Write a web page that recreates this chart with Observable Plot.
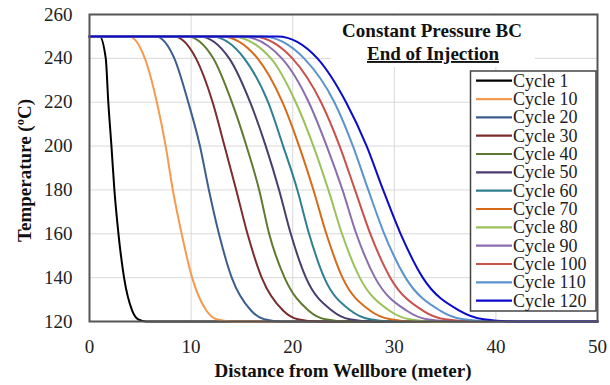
<!DOCTYPE html>
<html><head><meta charset="utf-8">
<script src="https://cdn.jsdelivr.net/npm/d3@7"></script>
<script src="https://cdn.jsdelivr.net/npm/@observablehq/plot@0.6"></script>
<style>
body{margin:0;background:#fff;}
#chart{position:relative;width:610px;height:385px;font-family:"Liberation Serif","Times New Roman",serif;}
#overlay{position:absolute;left:0;top:0;pointer-events:none;}
</style></head><body><div id="chart"></div>
<script>
// Series names and colours
const cycles = ["Cycle 1","Cycle 10","Cycle 20","Cycle 30","Cycle 40","Cycle 50","Cycle 60","Cycle 70","Cycle 80","Cycle 90","Cycle 100","Cycle 110","Cycle 120"];
const colors = ["#000000","#F79A4F","#3B5E8C","#7B2C2E","#5F7A30","#4A3D6E","#2F7F91","#D66A1A","#9BC15A","#8A6DAF","#C9504C","#5B93CC","#0A0ACD"];
// Temperature (°C) levels at which each profile's distance was read
const temps = [250, 250, 240, 220, 200, 180, 160, 140, 125, 121, 120, 120];
// Distance from wellbore (m) at each temperature level, one array per cycle
const cycle1   = [0, 1.0,  1.6,  1.85, 2.16, 2.45, 2.85, 3.4,  4.2,  4.8,  5.6,  50];
const cycle10  = [0, 3.9,  5.45, 6.63, 7.5,  8.2,  9.07, 10.1, 11.5, 12.5, 14.0, 50];
const cycle20  = [0, 6.5,  8.35, 9.72, 10.87,11.75,12.74,14.0, 15.9, 17.2, 19.0, 50];
const cycle30  = [0, 8.3,  10.48,12.12,13.29,14.44,15.55,16.95,19.05,20.5, 22.5, 50];
const cycle40  = [0, 9.6,  12.18,14.01,15.45,16.7, 17.68,19.2, 21.55,23.2, 25.5, 50];
const cycle50  = [0, 10.8, 13.75,15.81,17.35,18.66,19.81,21.3, 23.85,25.6, 28.0, 50];
const cycle60  = [0, 12.0, 15.23,17.58,19.06,20.46,21.61,23.1, 25.7, 27.6, 30.0, 50];
const cycle70  = [0, 13.0, 16.54,18.99,20.63,22.04,23.31,24.9, 27.6, 29.6, 32.0, 50];
const cycle80  = [0, 14.0, 17.85,20.30,22.04,23.51,24.85,26.6, 29.5, 31.5, 34.0, 50];
const cycle90  = [0, 15.0, 18.93,21.58,23.35,24.9, 26.26,28.1, 31.2, 33.2, 36.0, 50];
const cycle100 = [0, 16.0, 19.97,22.79,24.62,26.13,27.64,29.6, 32.8, 35.0, 38.0, 50];
const cycle110 = [0, 17.0, 21.12,24.10,25.93,27.44,29.01,31.1, 34.5, 36.8, 40.0, 50];
const cycle120 = [0, 18.5, 22.43,25.25,27.28,28.9, 30.62,32.8, 36.4, 38.8, 42.0, 50];
// Axis ticks
const xTicks = [0, 10, 20, 30, 40, 50];
const yTicks = [120, 140, 160, 180, 200, 220, 240, 260];
const xGrid = [10, 20, 30, 40];
const yGrid = [140, 160, 180, 200, 220, 240];
const titleLines = ["Constant Pressure BC", "End of Injection"];
const xTitle = "Distance from Wellbore (meter)";
const yTitle = "Temperature (ºC)";

const series = [cycle1,cycle10,cycle20,cycle30,cycle40,cycle50,cycle60,cycle70,cycle80,cycle90,cycle100,cycle110,cycle120];
const rows = [];
series.forEach((xs, i) => xs.forEach((x, j) => rows.push({cycle: cycles[i], x, t: temps[j]})));

const W = 610, H = 385, mL = 89, mR = 13, mT = 14, mB = 64;
const plot = Plot.plot({
  width: W, height: H, marginLeft: mL, marginRight: mR, marginTop: mT, marginBottom: mB,
  style: {fontFamily: '"Liberation Serif", serif', fontSize: "19px", color: "#222", background: "white"},
  x: {domain: [0, 50], ticks: xTicks, tickSize: 0, tickPadding: 18, label: null},
  y: {domain: [120, 260], ticks: yTicks, tickSize: 0, tickPadding: 17, label: null},
  color: {domain: cycles, range: colors},
  marks: [
    Plot.ruleX(xGrid, {stroke: "#d9d9d9", strokeWidth: 1}),
    Plot.ruleY(yGrid, {stroke: "#d9d9d9", strokeWidth: 1}),
    Plot.line(rows, {x: "x", y: "t", z: "cycle", stroke: "cycle", strokeWidth: 2, curve: "monotone-x"}),
    Plot.frame({stroke: "#555", strokeWidth: 2})
  ]
});
const chart = document.getElementById("chart");
chart.appendChild(plot);

// Overlay: title box, legend, axis titles
const svg = d3.select(chart).append("svg").attr("id", "overlay").attr("width", W).attr("height", H)
  .style("font-family", '"Liberation Serif", serif');
svg.append("rect").attr("x", 331).attr("y", 16).attr("width", 204).attr("height", 51).attr("fill", "white");
svg.append("text").attr("x", 432).attr("y", 37).attr("text-anchor", "middle")
  .attr("font-size", 19).attr("font-weight", "bold").attr("fill", "#111").text(titleLines[0]);
svg.append("text").attr("x", 433).attr("y", 60).attr("text-anchor", "middle")
  .attr("font-size", 19).attr("font-weight", "bold").attr("fill", "#111")
  .attr("text-decoration", "underline").text(titleLines[1]);

const lg = svg.append("g");
lg.append("rect").attr("x", 470.5).attr("y", 71).attr("width", 125.5).attr("height", 240)
  .attr("fill", "white").attr("stroke", "#444").attr("stroke-width", 1.5);
cycles.forEach((c, i) => {
  const y = 80.7 + i * 18.33;
  lg.append("line").attr("x1", 476).attr("x2", 512).attr("y1", y).attr("y2", y)
    .attr("stroke", colors[i]).attr("stroke-width", 2.2);
  lg.append("text").attr("x", 513).attr("y", y + 6).attr("font-size", 18).attr("fill", "#222").text(c);
});

svg.append("text").attr("x", (mL + W - mR) / 2).attr("y", 377).attr("text-anchor", "middle")
  .attr("font-size", 19).attr("font-weight", "bold").attr("fill", "#111").text(xTitle);
svg.append("text").attr("transform", `translate(31,${(mT + H - mB) / 2 + 3}) rotate(-90)`)
  .attr("text-anchor", "middle").attr("font-size", 19).attr("font-weight", "bold").attr("fill", "#111").text(yTitle);
</script></body></html>
